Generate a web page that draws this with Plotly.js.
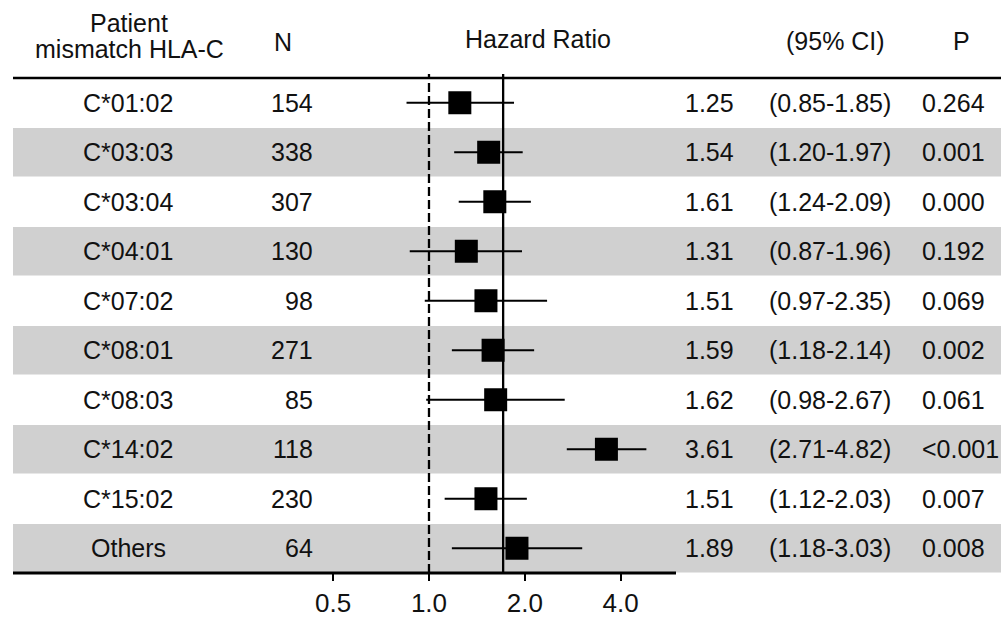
<!DOCTYPE html>
<html>
<head>
<meta charset="utf-8">
<script src="https://cdn.plot.ly/plotly-3.0.1.min.js"></script>
<style>html,body{margin:0;padding:0;background:#fff;}#chart{width:1001px;height:619px;}</style>
</head>
<body>
<div id="chart"></div>
<script>
// ---- data ----
const labels = ['C*01:02','C*03:03','C*03:04','C*04:01','C*07:02','C*08:01','C*08:03','C*14:02','C*15:02','Others'];
const nVals  = [154, 338, 307, 130, 98, 271, 85, 118, 230, 64];
const hr     = [1.25, 1.54, 1.61, 1.31, 1.51, 1.59, 1.62, 3.61, 1.51, 1.89];
const ciLow  = [0.85, 1.20, 1.24, 0.87, 0.97, 1.18, 0.98, 2.71, 1.12, 1.18];
const ciHigh = [1.85, 1.97, 2.09, 1.96, 2.35, 2.14, 2.67, 4.82, 2.03, 3.03];
const pVals  = ['0.264','0.001','0.000','0.192','0.069','0.002','0.061','<0.001','0.007','0.008'];
const overallHR = 1.71;
const refHR = 1.0;
const xTickVals = [0.5, 1, 2, 4];
const xTickText = ['0.5', '1.0', '2.0', '4.0'];
const headers = {label1: 'Patient', label2: 'mismatch HLA-C', n: 'N', hr: 'Hazard Ratio', ci: '(95% CI)', p: 'P'};

// ---- layout helpers ----
const W = 1001, H = 619;
const plotTop = 78, plotBottom = 573;
const FONT = 'Liberation Sans, Arial, Helvetica, sans-serif';
const px = v => v / W;
const py = v => (plotBottom - v) / (plotBottom - plotTop);

const trace = {
  type: 'scatter',
  mode: 'markers',
  x: hr,
  y: labels,
  marker: {symbol: 'square', size: 23, color: '#000', line: {width: 0}},
  error_x: {
    type: 'data', symmetric: false,
    array: hr.map((v, i) => ciHigh[i] - v),
    arrayminus: hr.map((v, i) => v - ciLow[i]),
    color: '#000', thickness: 2.2, width: 0
  },
  hoverinfo: 'skip',
  showlegend: false
};

const shapes = [];
labels.forEach((lab, i) => {
  if (i % 2 === 1) {
    shapes.push({type: 'rect', layer: 'below', xref: 'paper', yref: 'y',
      x0: px(13), x1: 1, y0: i - 0.49, y1: i + 0.49,
      fillcolor: '#d0d0d0', line: {width: 0}});
  }
});
shapes.push({type: 'line', xref: 'paper', yref: 'paper', x0: px(13), x1: 1, y0: 1, y1: 1,
  line: {color: '#000', width: 2.5}});
shapes.push({type: 'line', xref: 'paper', yref: 'paper', x0: px(13), x1: px(676), y0: 0, y1: 0,
  line: {color: '#000', width: 3}});
shapes.push({type: 'line', xref: 'x', yref: 'paper', x0: refHR, x1: refHR, y0: 0, y1: py(74),
  line: {color: '#000', width: 2.3, dash: '9px,4px'}});
shapes.push({type: 'line', xref: 'x', yref: 'paper', x0: overallHR, x1: overallHR, y0: 0, y1: py(74),
  line: {color: '#000', width: 2.3}});

const ann = [];
const txt = (text, x, y, xanchor, yref, size) => ({
  text: text, x: x, y: y, xref: 'paper', yref: yref || 'paper',
  xanchor: xanchor || 'center', yanchor: 'middle', showarrow: false,
  font: {family: FONT, size: size || 25, color: '#111'}
});
ann.push(txt(headers.label1, px(129), py(23)));
ann.push(txt(headers.label2, px(129), py(49)));
ann.push(txt(headers.n, px(283), py(42)));
ann.push(txt(headers.hr, px(538), py(39)));
ann.push(txt(headers.ci, px(835), py(41)));
ann.push(txt(headers.p, px(961), py(41)));
labels.forEach((lab, i) => {
  ann.push(txt(lab, px(128), lab, 'center', 'y'));
  ann.push(txt(String(nVals[i]), px(315), lab, 'right', 'y'));
  ann.push(txt(hr[i].toFixed(2), px(736), lab, 'right', 'y'));
  ann.push(txt('(' + ciLow[i].toFixed(2) + '-' + ciHigh[i].toFixed(2) + ')', px(767), lab, 'left', 'y'));
  ann.push(txt(pVals[i], px(920), lab, 'left', 'y'));
});

const layout = {
  width: W, height: H,
  margin: {l: 0, r: 0, t: plotTop, b: H - plotBottom, pad: 0},
  paper_bgcolor: '#fff', plot_bgcolor: '#fff',
  showlegend: false,
  xaxis: {
    type: 'log', range: [-1.348, 1.7974], fixedrange: true,
    tickvals: xTickVals, ticktext: xTickText,
    ticks: 'outside', ticklen: 7, tickwidth: 2, tickcolor: '#000',
    tickfont: {family: FONT, size: 26, color: '#111'},
    showgrid: false, zeroline: false, showline: false
  },
  yaxis: {
    type: 'category', categoryarray: labels, categoryorder: 'array',
    range: [labels.length - 0.5, -0.5], fixedrange: true,
    showticklabels: false, ticks: '', showgrid: false, zeroline: false, showline: false
  },
  shapes: shapes,
  annotations: ann
};

Plotly.newPlot('chart', [trace], layout, {displayModeBar: false, staticPlot: true});
</script>
</body>
</html>
